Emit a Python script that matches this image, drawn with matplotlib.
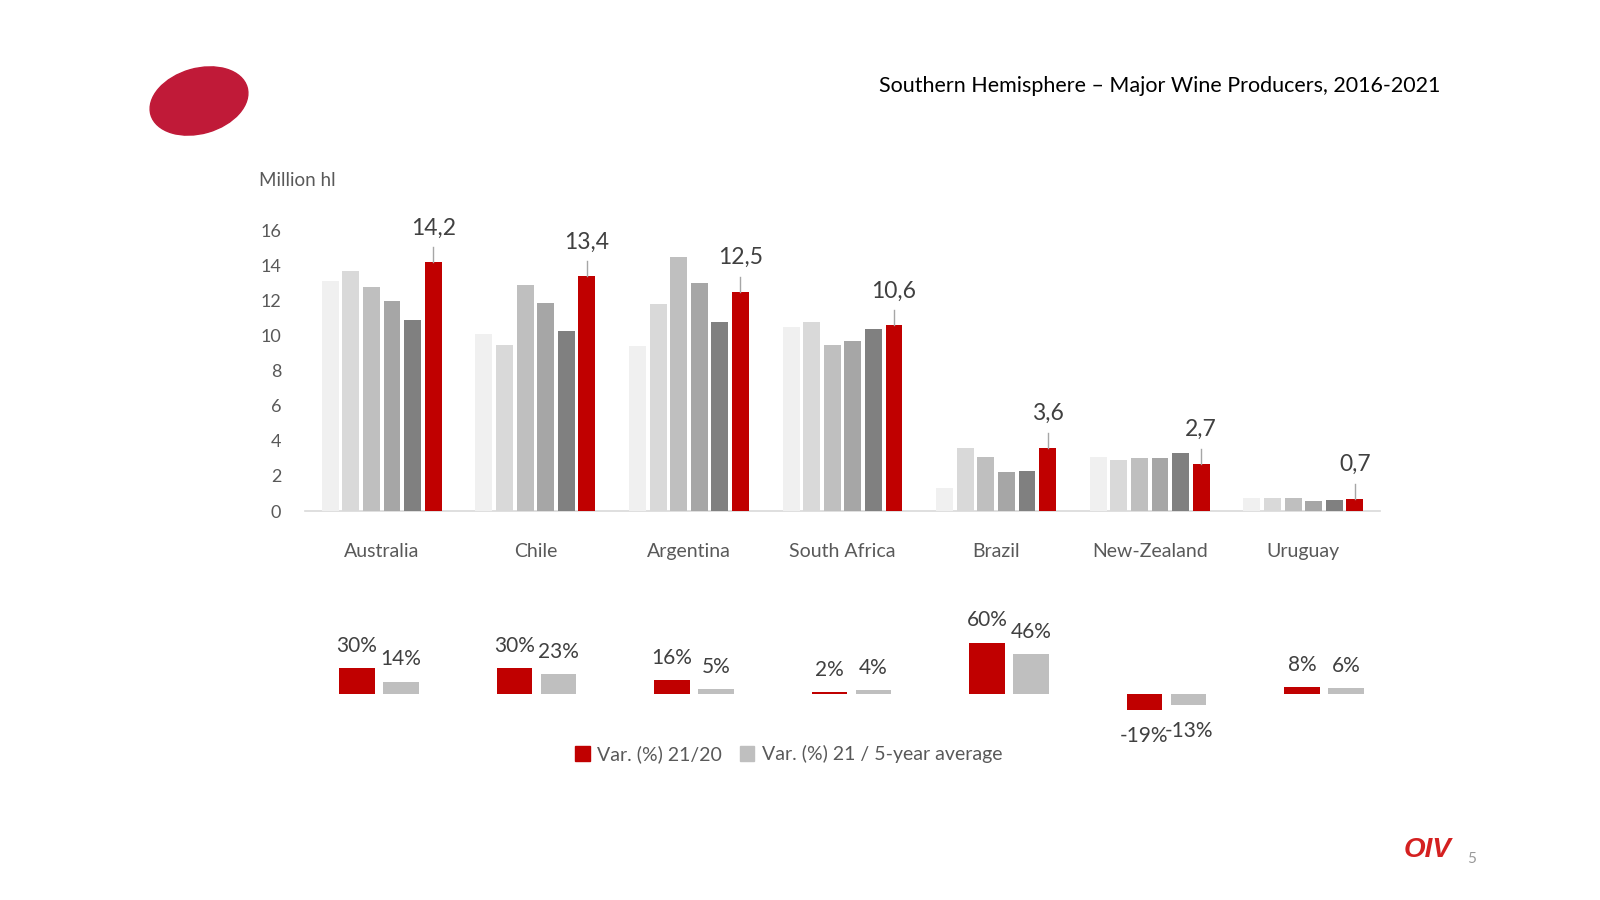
import numpy as np
import matplotlib
matplotlib.use("Agg")
import matplotlib.pyplot as plt
from matplotlib.patches import Ellipse, Patch

plt.rcParams['font.family'] = ['Lato', 'DejaVu Sans']

# ---- data ----
countries = ["Australia", "Chile", "Argentina", "South Africa", "Brazil", "New-Zealand", "Uruguay"]
years = ["2016", "2017", "2018", "2019", "2020", "2021"]
prod_2016 = [13.1, 10.1, 9.4, 10.5, 1.3, 3.1, 0.75]
prod_2017 = [13.7, 9.5, 11.8, 10.8, 3.6, 2.9, 0.75]
prod_2018 = [12.8, 12.9, 14.5, 9.5, 3.1, 3.0, 0.75]
prod_2019 = [12.0, 11.9, 13.0, 9.7, 2.2, 3.0, 0.55]
prod_2020 = [10.9, 10.3, 10.8, 10.4, 2.3, 3.3, 0.65]
prod_2021 = [14.2, 13.4, 12.5, 10.6, 3.6, 2.7, 0.7]
labels_2021 = ["14,2", "13,4", "12,5", "10,6", "3,6", "2,7", "0,7"]

var_2120 = [30, 30, 16, 2, 60, -19, 8]
var_5yr = [14, 23, 5, 4, 46, -13, 6]

year_colors = ["#F0F0F0", "#D9D9D9", "#BFBFBF", "#A6A6A6", "#808080", "#C00000"]
RED = "#C00000"
GREY = "#BFBFBF"
TXT = "#595959"

fig = plt.figure(figsize=(16, 9), dpi=100)
fig.patch.set_facecolor("white")

# ---- main production chart ----
ax = fig.add_axes([0.1906, 0.4322, 0.672, 0.3115])
series = [prod_2016, prod_2017, prod_2018, prod_2019, prod_2020, prod_2021]
x = np.arange(len(countries))
step, width = 0.134, 0.11
for i, (vals, col) in enumerate(zip(series, year_colors)):
    ax.bar(x + (i - 2.5) * step, vals, width, color=col, label=years[i], zorder=2)

# 2021 labels with leader lines
x21 = x + 2.5 * step
for xi, v, lab in zip(x21, prod_2021, labels_2021):
    ax.plot([xi, xi], [v, v + 0.85], color="#A6A6A6", lw=1, zorder=3)
    ax.text(xi, v + 1.95, lab, ha="center", va="center", fontsize=16.5, color="#404040")

ax.set_xlim(-0.5, len(countries) - 0.5)
ax.set_ylim(0, 16)
ax.set_yticks(range(0, 17, 2))
ax.set_xticks(x)
ax.set_xticklabels(countries)
ax.tick_params(axis="y", length=0, pad=17, labelsize=13, labelcolor=TXT)
ax.tick_params(axis="x", length=0, pad=23, labelsize=14, labelcolor=TXT)
for s in ["top", "right", "left"]:
    ax.spines[s].set_visible(False)
ax.spines["bottom"].set_color("#D9D9D9")
ax.spines["bottom"].set_linewidth(1.2)
ax.spines["bottom"].set_zorder(1)

fig.text(0.162, 0.800, "Million hl", fontsize=13.5, color=TXT, ha="left", va="center")

# ---- variation chart ----
av = fig.add_axes([300.25 / 1600, 0.1916, (1402.75 - 300.25) / 1600, 0.1133])
xs = np.arange(len(countries))
w, off = 0.225, 0.14
av.bar(xs - off, var_2120, w, color=RED)
av.bar(xs + off, var_5yr, w, color=GREY)
for xx, vals in ((xs - off, var_2120), (xs + off, var_5yr)):
    for xi, v in zip(xx, vals):
        dy = 16 if v >= 0 else -19
        av.annotate(f"{v}%", (xi, v), xytext=(0, dy), textcoords="offset points",
                    ha="center", va="center", fontsize=15, color="#404040",
                    annotation_clip=False)
av.set_xlim(-0.5, len(countries) - 0.5)
av.set_ylim(-40, 80)
av.axis("off")

handles = [Patch(color=RED, label="Var. (%) 21/20"),
           Patch(color=GREY, label="Var. (%) 21 / 5-year average")]
fig.legend(handles=handles, loc="center", bbox_to_anchor=(0.493, 0.162), ncol=2,
           frameon=False, fontsize=14, handlelength=0.75, handleheight=0.75,
           handletextpad=0.4, columnspacing=0.9, labelcolor=TXT)

# ---- title, logo, footer ----
fig.text(0.9, 0.905, "Southern Hemisphere \u2013 Major Wine Producers, 2016-2021",
         ha="right", va="center", fontsize=15.5, color="black")

logo = Ellipse((1.99, 7.99), 1.0, 0.65, angle=16, color="#C01A38",
               transform=fig.dpi_scale_trans)
fig.patches.append(logo)

fig.text(0.892, 0.0556, "OIV", ha="center", va="center", fontsize=20,
         fontweight="bold", fontstyle="italic", color="#D42020",
         family=["Liberation Sans", "DejaVu Sans"])
fig.text(0.92, 0.046, "5", ha="center", va="center", fontsize=11, color="#999999")

fig.savefig("out.png", dpi=100, facecolor="white")
